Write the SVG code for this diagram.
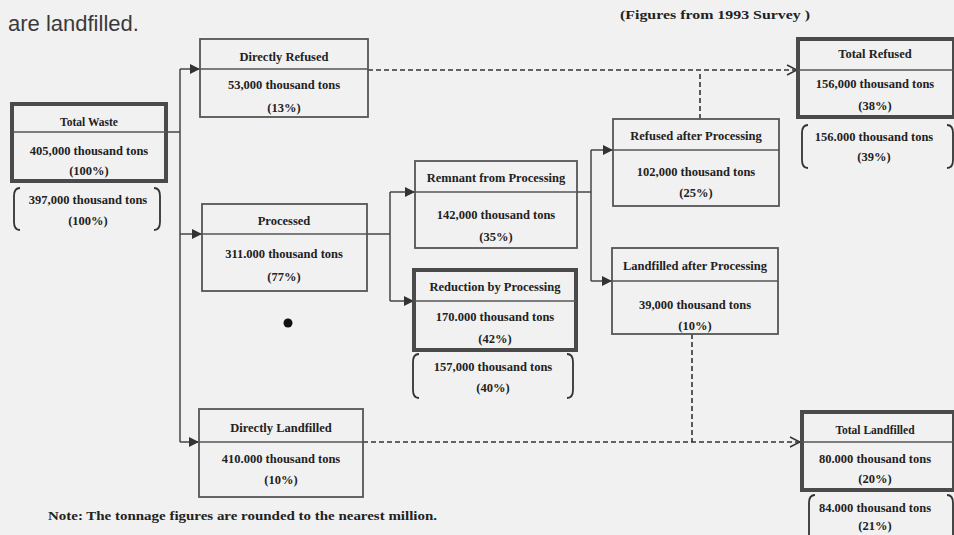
<svg xmlns="http://www.w3.org/2000/svg" width="954" height="535" viewBox="0 0 954 535">
<style>
.bg{fill:#f1f1f1}
.box{fill:none;stroke:#555;stroke-width:1.8}
.thick{fill:none;stroke:#4a4a4a;stroke-width:4}
.div{stroke:#555;stroke-width:1.5}
.t{font-family:"Liberation Serif","DejaVu Serif",serif;font-weight:bold;font-size:12.5px;fill:#222;text-anchor:middle}
.s{font-size:11.5px}
.br{fill:none;stroke:#333;stroke-width:1.8}
.ln{fill:none;stroke:#444;stroke-width:1.5}
.dash{fill:none;stroke:#333;stroke-width:1.6;stroke-dasharray:5 3}
</style>
<defs>
<marker id="arr" viewBox="0 0 10 10" refX="10" refY="5" markerWidth="10" markerHeight="10" markerUnits="userSpaceOnUse" orient="auto">
<path d="M0,0 L10,5 L0,10 Z" fill="#333"/>
</marker>
<marker id="open" viewBox="0 0 12 12" refX="11" refY="6" markerWidth="12" markerHeight="12" markerUnits="userSpaceOnUse" orient="auto">
<path d="M1,1 L11,6 L1,11" fill="none" stroke="#333" stroke-width="1.5"/>
</marker>
</defs>
<rect class="bg" x="0" y="0" width="954" height="535"/>
<text x="8" y="31" font-family="Liberation Sans, Arial, sans-serif" font-size="22" fill="#3a3a3a">are landfilled.</text>
<text x="620" y="19" font-family="Liberation Serif, DejaVu Serif, serif" font-weight="bold" font-size="12" fill="#222" textLength="190" lengthAdjust="spacingAndGlyphs">(Figures from 1993 Survey )</text>

<g id="connectors">
<path class="ln" d="M166,132 H180"/>
<path class="ln" d="M180,69 V442"/>
<path class="ln" d="M180,69 H200" marker-end="url(#arr)"/>
<path class="ln" d="M180,234 H202" marker-end="url(#arr)"/>
<path class="ln" d="M180,442 H199" marker-end="url(#arr)"/>
<path class="ln" d="M367,234 H390"/>
<path class="ln" d="M390,192 V301"/>
<path class="ln" d="M390,192 H415" marker-end="url(#arr)"/>
<path class="ln" d="M390,301 H414" marker-end="url(#arr)"/>
<path class="ln" d="M577,192 H591"/>
<path class="ln" d="M591,150 V281"/>
<path class="ln" d="M591,150 H613" marker-end="url(#arr)"/>
<path class="ln" d="M591,281 H612" marker-end="url(#arr)"/>
<path class="dash" d="M368,70 H797" marker-end="url(#open)"/>
<path class="dash" d="M700,119 V72"/>
<path class="dash" d="M363,442 H800" marker-end="url(#open)"/>
<path class="dash" d="M692,334 V442"/>
</g>

<g id="total-waste">
<rect class="thick" x="12" y="104" width="154" height="77"/>
<line class="div" x1="12" y1="132" x2="166" y2="132"/>
<text class="t s" x="89" y="126">Total Waste</text>
<text class="t" x="89" y="155">405,000 thousand tons</text>
<text class="t" x="89" y="175">(100%)</text>
<path class="br" d="M20,188 Q14,188 14,196 V222 Q14,230 20,230"/>
<path class="br" d="M154,188 Q160,188 160,196 V222 Q160,230 154,230"/>
<text class="t" x="88" y="204">397,000 thousand tons</text>
<text class="t" x="88" y="225">(100%)</text>
</g>

<g id="directly-refused">
<rect class="box" x="200" y="39" width="168" height="78"/>
<line class="div" x1="200" y1="69" x2="368" y2="69"/>
<text class="t" x="284" y="61">Directly Refused</text>
<text class="t" x="284" y="89">53,000 thousand tons</text>
<text class="t" x="284" y="112">(13%)</text>
</g>

<g id="processed">
<rect class="box" x="202" y="204" width="165" height="87"/>
<line class="div" x1="202" y1="234" x2="367" y2="234"/>
<text class="t" x="284" y="225">Processed</text>
<text class="t" x="284" y="258">311.000 thousand tons</text>
<text class="t" x="284" y="281">(77%)</text>
</g>

<circle cx="288" cy="323" r="4.5" fill="#111"/>

<g id="directly-landfilled">
<rect class="box" x="199" y="409" width="164" height="88"/>
<line class="div" x1="199" y1="442" x2="363" y2="442"/>
<text class="t" x="281" y="432">Directly Landfilled</text>
<text class="t" x="281" y="463">410.000 thousand tons</text>
<text class="t" x="281" y="484">(10%)</text>
</g>

<g id="remnant">
<rect class="box" x="415" y="161" width="162" height="87"/>
<line class="div" x1="415" y1="192" x2="577" y2="192"/>
<text class="t" x="496" y="182">Remnant from Processing</text>
<text class="t" x="496" y="219">142,000 thousand tons</text>
<text class="t" x="496" y="241">(35%)</text>
</g>

<g id="reduction">
<rect class="thick" x="414" y="270" width="162" height="80"/>
<line class="div" x1="414" y1="301" x2="576" y2="301"/>
<text class="t" x="495" y="291">Reduction by Processing</text>
<text class="t" x="495" y="321">170.000 thousand tons</text>
<text class="t" x="495" y="343">(42%)</text>
<path class="br" d="M419,354 Q413,354 413,362 V390 Q413,398 419,398"/>
<path class="br" d="M567,354 Q573,354 573,362 V390 Q573,398 567,398"/>
<text class="t" x="493" y="371">157,000 thousand tons</text>
<text class="t" x="493" y="392">(40%)</text>
</g>

<g id="refused-after">
<rect class="box" x="613" y="119" width="166" height="87"/>
<line class="div" x1="613" y1="150" x2="779" y2="150"/>
<text class="t" x="696" y="140">Refused after Processing</text>
<text class="t" x="696" y="176">102,000 thousand tons</text>
<text class="t" x="696" y="197">(25%)</text>
</g>

<g id="landfilled-after">
<rect class="box" x="612" y="248" width="166" height="86"/>
<line class="div" x1="612" y1="281" x2="778" y2="281"/>
<text class="t" x="695" y="270">Landfilled after Processing</text>
<text class="t" x="695" y="309">39,000 thousand tons</text>
<text class="t" x="695" y="330">(10%)</text>
</g>

<g id="total-refused">
<rect class="thick" x="798" y="39" width="156" height="78"/>
<line class="div" x1="798" y1="70" x2="954" y2="70"/>
<text class="t" x="875" y="58">Total Refused</text>
<text class="t" x="875" y="88">156,000 thousand tons</text>
<text class="t" x="875" y="110">(38%)</text>
<path class="br" d="M808,125 Q802,125 802,133 V160 Q802,168 808,168"/>
<path class="br" d="M947,125 Q953,125 953,133 V160 Q953,168 947,168"/>
<text class="t" x="874" y="141">156.000 thousand tons</text>
<text class="t" x="874" y="161">(39%)</text>
</g>

<g id="total-landfilled">
<rect class="thick" x="802" y="412" width="152" height="78"/>
<line class="div" x1="802" y1="442" x2="954" y2="442"/>
<text class="t s" x="875" y="434">Total Landfilled</text>
<text class="t" x="875" y="463">80.000 thousand tons</text>
<text class="t" x="875" y="483">(20%)</text>
<path class="br" d="M815,495 Q809,495 809,503 V540"/>
<path class="br" d="M947,495 Q953,495 953,503 V540"/>
<text class="t" x="875" y="512">84.000 thousand tons</text>
<text class="t" x="875" y="530">(21%)</text>
</g>

<text x="48" y="520" font-family="Liberation Serif, DejaVu Serif, serif" font-weight="bold" font-size="12" fill="#222" textLength="389" lengthAdjust="spacingAndGlyphs">Note: The tonnage figures are rounded to the nearest million.</text>
</svg>
